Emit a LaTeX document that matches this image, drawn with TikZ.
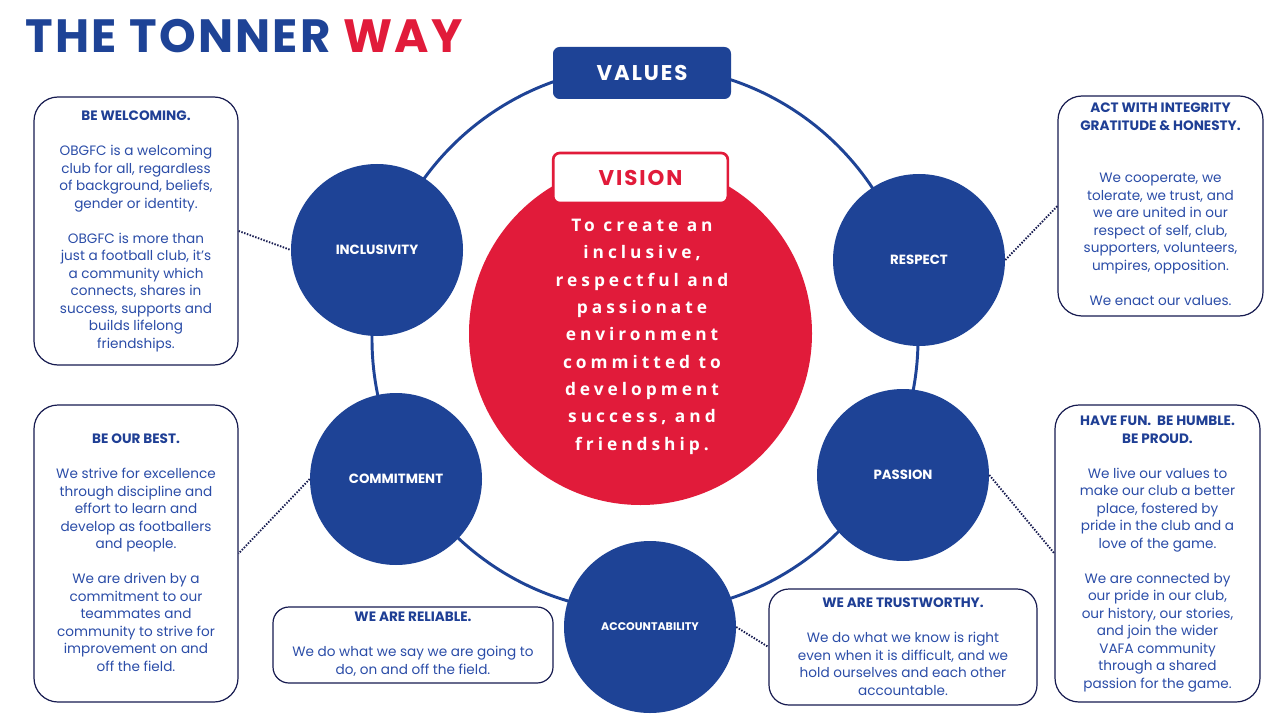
\documentclass[tikz,border=0pt]{standalone}
\usepackage{fontspec}
\setmainfont{Poppins}
\newfontfamily\visfont[LetterSpace=23]{Open Sans}
\newfontfamily\headfont[LetterSpace=9]{Poppins}
\newfontfamily\titlefont[LetterSpace=5]{Poppins}
\definecolor{cblue}{HTML}{1E4396}
\definecolor{cred}{HTML}{E11B3A}
\definecolor{cnavy}{HTML}{171B50}
\definecolor{ctitle}{HTML}{1F3F95}
\definecolor{cbody}{HTML}{2B4DA8}
\begin{document}
\begin{tikzpicture}[x=0.75pt,y=-0.75pt,
  valcirc/.style={circle, fill=cblue, minimum size=129pt, inner sep=0pt, text=white, font=\bfseries\fontsize{10}{12}\selectfont},
  infobox/.style={draw=cnavy, line width=0.9pt, rounded corners=18pt, fill=white, inner sep=0pt},
  boxtext/.style={align=center, anchor=north, inner sep=0pt, text=cbody, font=\fontsize{10.2}{13.125}\selectfont},
  dotline/.style={draw=cnavy, line width=1.4pt, dash pattern=on 1.1pt off 1.1pt},
  ring/.style={draw=cblue, line width=2.2pt}
]
\useasboundingbox (0,0) rectangle (1280,720);
\fill[white] (0,0) rectangle (1280,720);

% title
\node[anchor=west, inner sep=0pt, font=\titlefont\bfseries\fontsize{35}{40}\selectfont] (title) at (25,36) {\textcolor{cblue}{THE TONNER} \textcolor{cred}{WAY}};

% ring
\coordinate (ringc) at (645,339);
\draw[ring] (ringc) circle [radius=204.75pt];

% values circles
\node[valcirc] (incl) at (377,250) {INCLUSIVITY};
\node[valcirc] (resp) at (919,260) {RESPECT};
\node[valcirc] (comm) at (396,479) {COMMITMENT};
\node[valcirc] (pass) at (903,475) {PASSION};
\node[valcirc, font=\bfseries\fontsize{8.3}{10}\selectfont] (acc) at (650,627) {ACCOUNTABILITY};

% vision circle
\node[circle, fill=cred, minimum size=257.25pt, inner sep=0pt] (vis) at (640.5,333.5) {};
\node[anchor=north, align=center, inner sep=0pt, text=white, font=\visfont\bfseries\fontsize{13}{20.5}\selectfont] (vistext) at (642,219) {To create an\\inclusive,\\respectful and\\passionate\\environment\\committed to\\development\\success, and\\friendship.};

% headers
\node[fill=cblue, rounded corners=5pt, minimum width=133.5pt, minimum height=39pt, inner sep=0pt, text=white, font=\headfont\bfseries\fontsize{16}{18}\selectfont] (values) at (642,73) {VALUES};
\node[fill=white, draw=cred, line width=2pt, rounded corners=5pt, minimum width=131pt, minimum height=37.5pt, inner sep=0pt, text=cred, font=\headfont\bfseries\fontsize{16}{18}\selectfont] (vision) at (640.5,178) {VISION};

% info boxes
\node[infobox, minimum width=153pt, minimum height=201pt] (welc) at (136,231) {};
\node[infobox, minimum width=153.75pt, minimum height=165pt] (integ) at (1160.5,206) {};
\node[infobox, minimum width=153pt, minimum height=222.75pt] (best) at (136,553.5) {};
\node[infobox, minimum width=153.75pt, minimum height=222.75pt] (fun) at (1157.5,553.5) {};
\node[infobox, rounded corners=12pt, minimum width=210pt, minimum height=57pt] (reli) at (413,645) {};
\node[infobox, rounded corners=15pt, minimum width=201pt, minimum height=87pt] (trust) at (903,647) {};

% box texts
\node[boxtext] (welct) at (136,111) {\textcolor{ctitle}{\bfseries BE WELCOMING.}\\[13.125pt]
OBGFC is a welcoming\\club for all, regardless\\of background, beliefs,\\gender or identity.\\[13.125pt]
OBGFC is more than\\just a football club, it's\\a community which\\connects, shares in\\success, supports and\\builds lifelong\\friendships.};

\node[boxtext] (integt) at (1160.5,103) {\textcolor{ctitle}{\bfseries ACT WITH INTEGRITY}\\\textcolor{ctitle}{\bfseries GRATITUDE \& HONESTY.}\\[26.25pt]
We cooperate, we\\tolerate, we trust, and\\we are united in our\\respect of self, club,\\supporters, volunteers,\\umpires, opposition.\\[13.125pt]
We enact our values.};

\node[boxtext] (bestt) at (136,434) {\textcolor{ctitle}{\bfseries BE OUR BEST.}\\[13.125pt]
We strive for excellence\\through discipline and\\effort to learn and\\develop as footballers\\and people.\\[13.125pt]
We are driven by a\\commitment to our\\teammates and\\community to strive for\\improvement on and\\off the field.};

\node[boxtext] (funt) at (1157.5,416) {\textcolor{ctitle}{\bfseries HAVE FUN.\ \ BE HUMBLE.}\\\textcolor{ctitle}{\bfseries BE PROUD.}\\[13.125pt]
We live our values to\\make our club a better\\place, fostered by\\pride in the club and a\\love of the game.\\[13.125pt]
We are connected by\\our pride in our club,\\our history, our stories,\\and join the wider\\VAFA community\\through a shared\\passion for the game.};

\node[boxtext] (relit) at (413,612) {\textcolor{ctitle}{\bfseries WE ARE RELIABLE.}\\[13.125pt]
We do what we say we are going to\\do, on and off the field.};

\node[boxtext] (trustt) at (903,598) {\textcolor{ctitle}{\bfseries WE ARE TRUSTWORTHY.}\\[13.125pt]
We do what we know is right\\even when it is difficult, and we\\hold ourselves and each other\\accountable.};

% dotted connectors
\draw[dotline] (welc.east) -- (incl.west);
\draw[dotline] (resp.east) -- (integ.west);
\draw[dotline] (comm.west) -- (best.east);
\draw[dotline] (pass.east) -- (fun.west);
\draw[dotline] (acc.east) -- (trust.west);
\end{tikzpicture}
\end{document}
